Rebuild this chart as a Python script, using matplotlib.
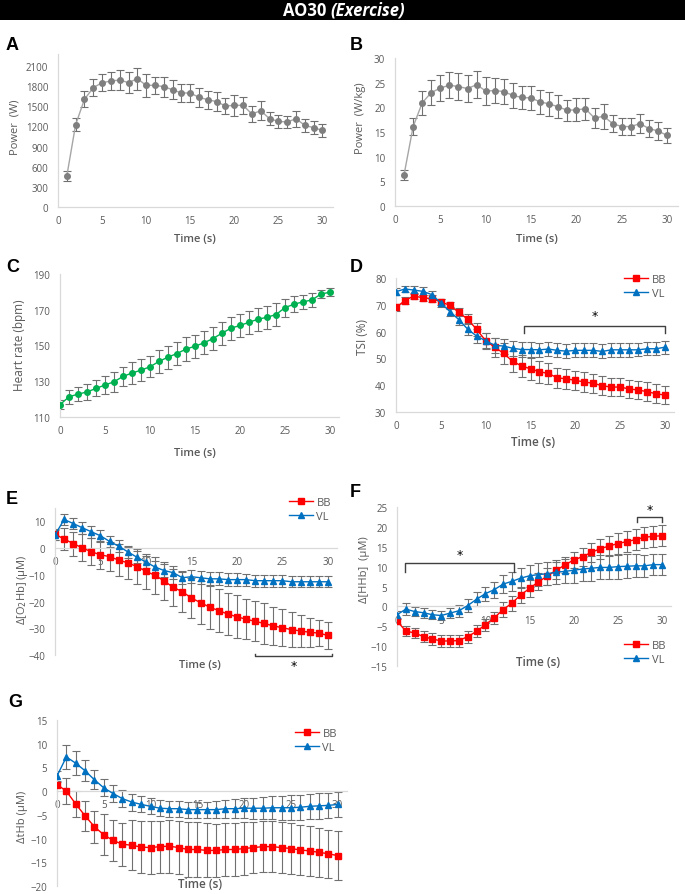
import matplotlib
matplotlib.use("Agg")
import matplotlib.pyplot as plt
from matplotlib.patches import Rectangle

# ---- data ----
t_power = list(range(1, 31))
t_full = list(range(0, 31))

power_w = [462, 1227, 1604, 1778, 1853, 1877, 1892, 1853, 1912, 1813,
           1813, 1793, 1748, 1699, 1699, 1634, 1599, 1570, 1505, 1515,
           1515, 1386, 1435, 1316, 1276, 1266, 1316, 1217, 1182, 1142]
power_w_err = [80, 100, 120, 130, 130, 140, 155, 160, 165, 170,
               130, 150, 140, 130, 140, 140, 135, 145, 120, 155,
               130, 120, 145, 95, 95, 95, 120, 100, 100, 95]

power_wkg = [6.35, 16.1, 20.9, 23.0, 23.9, 24.5, 24.2, 23.8, 24.6, 23.3,
             23.4, 23.2, 22.4, 22.0, 21.9, 21.1, 20.7, 20.1, 19.4, 19.5,
             19.7, 17.8, 18.2, 16.7, 16.1, 16.1, 16.7, 15.7, 15.2, 14.3]
power_wkg_err = [1.0, 1.8, 2.4, 2.5, 2.6, 2.6, 2.8, 2.7, 2.8, 2.8,
                 2.6, 2.6, 2.6, 2.4, 2.5, 2.5, 2.4, 2.3, 2.1, 2.3,
                 2.2, 2.0, 2.5, 1.8, 1.8, 1.8, 2.0, 1.7, 1.8, 1.6]

hr = [116.9, 121.3, 122.8, 124.0, 126.0, 127.9, 129.7, 132.7, 134.6, 136.2,
      138.1, 141.1, 143.5, 145.5, 148.0, 149.6, 151.5, 153.9, 156.9, 159.7,
      161.2, 163.0, 164.7, 165.8, 167.3, 171.2, 173.1, 174.4, 175.5, 178.8, 179.8]
hr_err = [2.5, 4, 4, 4.5, 4.5, 5, 5.5, 5.5, 6, 6,
          6, 6.5, 6.5, 6.5, 6.5, 6.5, 6.5, 6.5, 6.5, 6.5,
          6.5, 6.5, 6.5, 6.5, 6.5, 5, 4.5, 4, 4, 2.2, 2.2]

tsi_bb = [69.0, 71.6, 73.3, 72.6, 72.3, 71.1, 69.8, 67.2, 64.6, 60.8,
          56.6, 54.2, 51.9, 48.9, 47.2, 46.1, 45.0, 44.4, 42.7, 42.4,
          41.8, 41.2, 40.7, 39.8, 39.3, 39.3, 38.6, 38.2, 37.6, 36.8, 36.3]
tsi_bb_err = [1.2, 1.2, 1.2, 1.2, 1.2, 1.2, 1.3, 1.5, 1.8, 2.5,
              3, 3.5, 4, 4, 4, 4, 4, 3.8, 3.8, 3.8,
              3.6, 3.6, 3.5, 3.5, 3.5, 3.5, 3.5, 3.5, 3.5, 3.5, 3.5]
tsi_vl = [74.9, 75.9, 75.5, 75.0, 73.8, 70.7, 67.5, 64.5, 60.9, 58.3,
          56.6, 54.9, 54.6, 53.8, 53.3, 53.3, 53.2, 53.5, 53.0, 52.7,
          53.0, 53.0, 53.0, 52.6, 53.2, 53.2, 53.2, 53.2, 53.6, 53.6, 54.2]
tsi_vl_err = [1.2, 1.2, 1.5, 1.5, 1.5, 1.6, 1.8, 2, 2.2, 2.5,
              2.8, 2.8, 2.8, 2.8, 2.8, 2.8, 2.6, 2.6, 2.6, 2.6,
              2.6, 2.6, 2.6, 2.6, 2.6, 2.6, 2.6, 2.4, 2.4, 2.4, 2.4]

o2hb_bb = [5.2, 3.4, 1.7, 0.1, -1.4, -2.5, -3.2, -4.5, -5.5, -6.9,
           -8.7, -10.2, -12.3, -14.7, -16.3, -18.7, -20.4, -22.1, -23.4, -24.7,
           -25.7, -26.6, -27.4, -28.2, -29.1, -29.8, -30.5, -31.0, -31.5, -31.8, -32.7]
o2hb_bb_err = [2, 4, 4.5, 5, 5, 5.3, 5.5, 6, 6, 6.5,
               6.5, 7, 7, 7, 7.5, 7.5, 8, 8, 8, 8,
               8, 7.5, 7.5, 7.5, 7, 7, 6.5, 6, 5.5, 5, 5]
o2hb_vl = [4.9, 10.7, 9.2, 7.6, 6.1, 4.6, 2.5, 0.7, -1.4, -3.4,
           -5.2, -7.1, -8.4, -9.2, -11.1, -10.7, -11.1, -11.5, -11.5, -11.8,
           -11.8, -11.8, -12.2, -12.2, -12.2, -12.2, -12.6, -12.6, -12.6, -12.6, -12.6]
o2hb_vl_err = [2, 2.2, 2.2, 2.2, 2.2, 2.2, 2.2, 2.2, 2.2, 2.2,
               2.3, 2.4, 2.4, 2.5, 2.5, 2.5, 2.5, 2.4, 2.4, 2.3,
               2.3, 2.2, 2.2, 2.2, 2.2, 2.2, 2.1, 2.1, 2.1, 2.1, 2.1]

hhb_bb = [-3.7, -6.2, -6.7, -7.6, -8.2, -8.7, -8.7, -8.6, -7.6, -6.3,
          -4.6, -2.9, -0.8, 0.8, 2.9, 4.5, 6.2, 7.6, 9.1, 10.4,
          11.7, 12.5, 13.6, 14.5, 15.2, 15.8, 16.3, 16.8, 17.4, 17.6, 17.8]
hhb_bb_err = [0.8, 1.2, 1.2, 1.4, 1.5, 1.5, 1.5, 1.5, 1.5, 1.5,
              1.5, 1.6, 1.8, 1.9, 2.0, 2.1, 2.1, 2.1, 2.1, 2.1,
              2.1, 2.3, 2.4, 2.5, 2.6, 2.6, 2.6, 2.6, 2.6, 2.6, 2.6]
hhb_vl = [-2.1, -0.7, -1.3, -1.6, -2.1, -2.3, -1.7, -1.1, 0.2, 1.8,
          3.2, 4.2, 5.6, 6.3, 7.1, 7.7, 8.0, 8.2, 8.6, 8.8,
          9.1, 9.4, 9.6, 9.8, 9.8, 10.0, 10.1, 10.2, 10.2, 10.5, 10.5]
hhb_vl_err = [1.0, 1.5, 1.2, 1.2, 1.2, 1.2, 1.3, 1.5, 1.6, 1.7,
              1.8, 2.0, 2.2, 2.4, 2.5, 2.7, 2.8, 2.9, 3.0, 3.0,
              3.1, 3.1, 3.1, 3.0, 3.0, 3.0, 3.0, 2.9, 2.8, 2.7, 2.7]

thb_bb = [1.4, 0.0, -2.7, -5.2, -7.5, -9.2, -10.4, -11.2, -11.4, -11.8,
          -11.9, -11.7, -11.6, -11.9, -12.3, -12.3, -12.5, -12.5, -12.3, -12.3,
          -12.1, -11.9, -11.7, -11.7, -11.9, -12.1, -12.4, -12.6, -12.9, -13.2, -13.6]
thb_bb_err = [0.5, 2.8, 2.8, 3.1, 3.4, 4.3, 4.3, 4.5, 5.3, 5.4,
              5.5, 5.5, 5.6, 5.6, 5.7, 5.7, 5.7, 5.6, 5.6, 5.5,
              5.5, 5.4, 5.4, 5.4, 5.3, 5.3, 5.2, 5.2, 5.1, 5.1, 5.1]
thb_vl = [3.2, 7.2, 5.9, 4.3, 2.4, 0.7, -0.5, -1.6, -2.3, -2.8,
          -3.2, -3.6, -3.7, -3.7, -3.9, -3.9, -3.9, -3.9, -3.7, -3.7,
          -3.6, -3.6, -3.6, -3.5, -3.5, -3.5, -3.4, -3.2, -3.1, -3.0, -2.8]
thb_vl_err = [1.0, 2.5, 2.5, 2.2, 2.0, 1.8, 1.8, 1.8, 1.8, 1.7,
              1.7, 1.7, 1.7, 1.7, 1.7, 1.7, 1.7, 1.8, 1.9, 2.0,
              2.1, 2.2, 2.3, 2.4, 2.5, 2.6, 2.6, 2.7, 2.7, 2.7, 2.7]

# significance brackets: (x start, x end)
sig_tsi = (14.3, 30)
sig_o2hb = (22, 30.4)
sig_hhb = [(0.9, 13.2), (27.1, 30)]

RED = "#FF0000"
BLUE = "#0070C0"
GREEN = "#00B050"
GRAY_TXT = "#595959"
ERR = "#707070"
FONT = "Open Sans"

W, H = 685, 895
fig = plt.figure(figsize=(W / 100, H / 100), dpi=100)


def px_axes(l, t, r, b):
    return fig.add_axes([l / W, 1 - b / H, (r - l) / W, (b - t) / H])


def style(ax, xlim, ylim, yticks, zero=False):
    ax.set_xlim(*xlim)
    ax.set_ylim(*ylim)
    ax.set_xticks(range(0, 31, 5))
    ax.set_yticks(yticks)
    for s in ["top", "right"]:
        ax.spines[s].set_visible(False)
    for s in ["left", "bottom"]:
        ax.spines[s].set_color("#D9D9D9")
        ax.spines[s].set_linewidth(0.9)
    if zero:
        ax.spines["bottom"].set_position(("data", 0))
    ax.tick_params(length=0, labelsize=7, labelcolor=GRAY_TXT)
    ax.tick_params(axis="x", pad=6)
    ax.tick_params(axis="y", pad=7)
    for lab in ax.get_xticklabels() + ax.get_yticklabels():
        lab.set_family(FONT)
    ax.patch.set_alpha(0)


def series(ax, x, y, err, color, marker, ms, label=None, lcolor=None):
    ax.errorbar(x, y, yerr=err, fmt="none", ecolor=ERR, elinewidth=0.8,
                capsize=2.6, capthick=0.8, zorder=2)
    ax.plot(x, y, color=lcolor or color, lw=1.0, marker=marker, ms=ms,
            mfc=color, mec=color, label=label, zorder=3)


def ftext(x, y, s, **kw):
    kw.setdefault("family", FONT)
    kw.setdefault("color", GRAY_TXT)
    kw.setdefault("ha", "center")
    kw.setdefault("va", "center")
    fig.text(x / W, 1 - y / H, s, **kw)


def panel(x, y, s):
    fig.text(x / W, 1 - y / H, s, family="Liberation Sans", weight="bold",
             size=13, ha="left", va="center", color="black")


def legend(ax, x_right, y_top):
    leg = ax.legend(loc="upper right", bbox_to_anchor=(x_right / W, 1 - y_top / H),
                    bbox_transform=fig.transFigure, frameon=False,
                    prop={"family": FONT, "size": 8}, handlelength=2.2,
                    handletextpad=0.3, labelspacing=0.3, borderpad=0,
                    borderaxespad=0)
    for txt in leg.get_texts():
        txt.set_color(GRAY_TXT)


def bracket(ax, x0, x1, y, h, star_y, down=True):
    d = -h if down else h
    ax.plot([x0, x0, x1, x1], [y + d, y, y, y + d], color="#404040", lw=1.0,
            clip_on=False, zorder=4)
    ax.text((x0 + x1) / 2, star_y, "*", ha="center", va="center", fontsize=9,
            color="black", clip_on=False)


# ---- title band ----
fig.patches.append(Rectangle((0, 1 - 21 / H), 1, 21 / H, transform=fig.transFigure,
                             facecolor="black", edgecolor="none", zorder=0))
fig.text(326 / W, 1 - 11 / H, "AO30", color="white", weight="bold", size=12,
         family=FONT, ha="right", va="center")
fig.text(330 / W, 1 - 11 / H, "(Exercise)", color="white", weight="bold",
         style="italic", size=12, family=FONT, ha="left", va="center")

# ---- A ----
axA = px_axes(58, 55, 333, 208)
style(axA, (0, 31.2), (0, 2280), range(0, 2101, 300))
series(axA, t_power, power_w, power_w_err, "#7F7F7F", "o", 4, lcolor="#A6A6A6")
panel(6, 46, "A")
ftext(15, 127, "Power  (W)", rotation=90, size=8)
ftext(195, 240, "Time (s)", size=8, weight="semibold")

# ---- B ----
axB = px_axes(395, 59, 678, 207)
style(axB, (0, 31.2), (0, 30), range(0, 31, 5))
series(axB, t_power, power_wkg, power_wkg_err, "#7F7F7F", "o", 4, lcolor="#A6A6A6")
panel(350, 46, "B")
ftext(360, 118, "Power  (W/kg)", rotation=90, size=8)
ftext(537, 240, "Time (s)", size=8, weight="semibold")

# ---- C ----
axC = px_axes(60, 275, 339, 418)
style(axC, (0, 31), (110, 190), range(110, 191, 20))
series(axC, t_full, hr, hr_err, GREEN, "o", 4)
panel(6, 268, "C")
ftext(20, 345, "Heart rate (bpm)", rotation=90, size=8.5)
ftext(195, 454, "Time (s)", size=8, weight="semibold")

# ---- D ----
axD = px_axes(396, 279, 674, 413)
style(axD, (0, 31), (30, 80), range(30, 81, 10))
series(axD, t_full, tsi_bb, tsi_bb_err, RED, "s", 4, label="BB")
series(axD, t_full, tsi_vl, tsi_vl_err, BLUE, "^", 5, label="VL")
bracket(axD, sig_tsi[0], sig_tsi[1], 62.2, 2.6, 66)
legend(axD, 666, 275)
panel(350, 268, "D")
ftext(362, 337, "TSI (%)", rotation=90, size=8.5)
ftext(533, 443, "Time (s)", size=8.5, weight="semibold")

# ---- E ----
axE = px_axes(55, 509, 337, 656)
style(axE, (0, 31), (-40, 15), range(-40, 11, 10), zero=True)
series(axE, t_full, o2hb_bb, o2hb_bb_err, RED, "s", 4, label="BB")
series(axE, t_full, o2hb_vl, o2hb_vl_err, BLUE, "^", 5, label="VL")
bracket(axE, sig_o2hb[0], sig_o2hb[1], -40.4, -0.9, -43.8)
legend(axE, 331, 498)
panel(6, 500, "E")
ftext(22, 590, "Δ[O$_2$Hb] (µM)", rotation=90, size=8)
ftext(200, 666, "Time (s)", size=8, weight="semibold")

# ---- F ----
axF = px_axes(397, 508, 671, 667)
style(axF, (0, 31), (-15, 25), range(-15, 26, 5), zero=True)
series(axF, t_full, hhb_bb, hhb_bb_err, RED, "s", 4, label="BB")
series(axF, t_full, hhb_vl, hhb_vl_err, BLUE, "^", 5, label="VL")
bracket(axF, sig_hhb[0][0], sig_hhb[0][1], 10.8, 2.2, 13.1)
bracket(axF, sig_hhb[1][0], sig_hhb[1][1], 22.4, 1.1, 24.4)
legend(axF, 666, 641)
panel(350, 493, "F")
ftext(365, 570, "Δ[HHb]  (µM)", rotation=90, size=8)
ftext(538, 663, "Time (s)", size=8.5, weight="semibold")

# ---- G ----
axG = px_axes(57, 721, 347, 887)
style(axG, (0, 31), (-20, 15), range(-20, 16, 5), zero=True)
series(axG, t_full, thb_bb, thb_bb_err, RED, "s", 4, label="BB")
series(axG, t_full, thb_vl, thb_vl_err, BLUE, "^", 5, label="VL")
legend(axG, 337, 729)
panel(8, 703, "G")
ftext(22, 817, "ΔtHb (µM)", rotation=90, size=8)
ftext(200, 885, "Time (s)", size=8.5, weight="semibold")

fig.savefig("out.png", dpi=100)
